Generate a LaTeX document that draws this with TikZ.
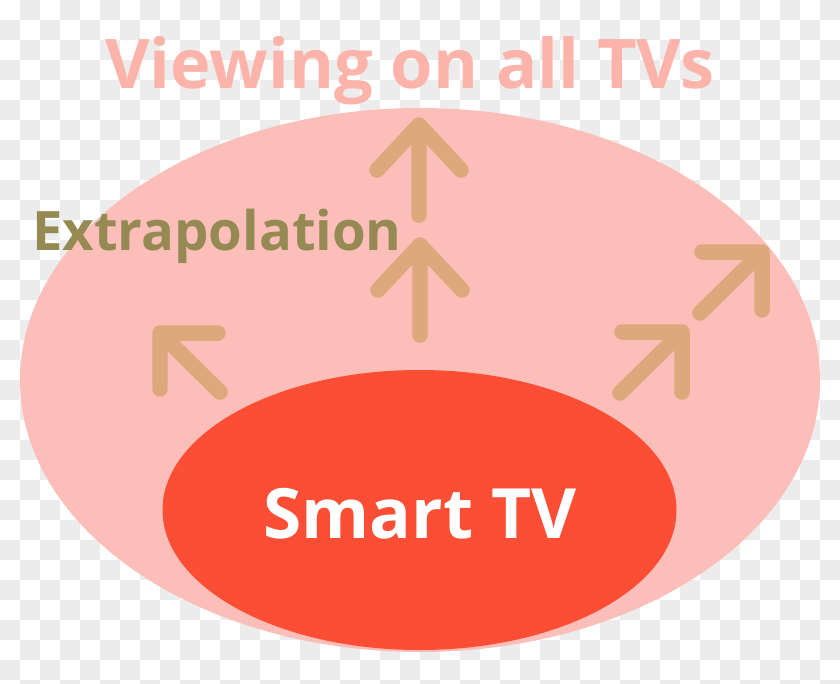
\documentclass[tikz,border=0pt]{standalone}
\usepackage{fontspec}
\setmainfont{Open Sans}
\usepackage{tikz}

\definecolor{checkgray}{RGB}{236,236,236}
\definecolor{viewpink}{RGB}{252,190,184}
\definecolor{smartred}{RGB}{252,78,52}
\definecolor{growtan}{RGB}{220,168,124}
\definecolor{titlepink}{RGB}{252,180,170}
\definecolor{extraolive}{RGB}{150,138,84}

\tikzset{
	growarrow/.style={draw=growtan, line width=0.31cm, line cap=round, line join=round},
	bigtext/.style={font=\bfseries\fontsize{39}{43}\selectfont}
}

\begin{document}
\begin{tikzpicture}[x=0.02cm, y=-0.02cm]
		\useasboundingbox (0,0) rectangle (840,684);
		\clip (0,0) rectangle (840,684);
		
		% transparent background
		\fill[white] (0,0) rectangle (840,684);
		\foreach \i in {0,2,...,40}
			\foreach \j in {1,3,...,33}
				\fill[checkgray] (20*\i,20*\j) rectangle ++(20,20);
		\foreach \i in {1,3,...,41}
			\foreach \j in {0,2,...,34}
				\fill[checkgray] (20*\i,20*\j) rectangle ++(20,20);
		
		\fill[viewpink] (420,380) ellipse (400 and 272);
		\fill[smartred] (419.5,510) ellipse (257 and 140);
		
		\node[bigtext, text=titlepink, anchor=base] (title) at (410,88) {Viewing on all TVs};
		\node[font=\bfseries\fontsize{31}{35}\selectfont, text=extraolive, anchor=base] (extra) at (217,250) {Extrapolation};
		\node[font=\bfseries\fontsize{39.5}{43}\selectfont, text=white, anchor=base] (smart) at (420,538) {Smart TV};
		
		% arrows: tip, left arm, right arm, tail
		\foreach \tx/\ty/\lx/\ly/\rx/\ry/\sx/\sy in {
				419/125/-42/45/42/45/0/90,
				420/245/-42/45/42/45/0/90,
				160/333/58/0/0/56/60/59,
				682/332/-60/0/0/60/-62/61,
				762/252/-60/0/0/58/-62/61}
			\draw[growarrow] (\tx+\lx,\ty+\ly) -- (\tx,\ty) -- (\tx+\rx,\ty+\ry)
				(\tx,\ty) -- (\tx+\sx,\ty+\sy);

	\end{tikzpicture}
\end{document}
